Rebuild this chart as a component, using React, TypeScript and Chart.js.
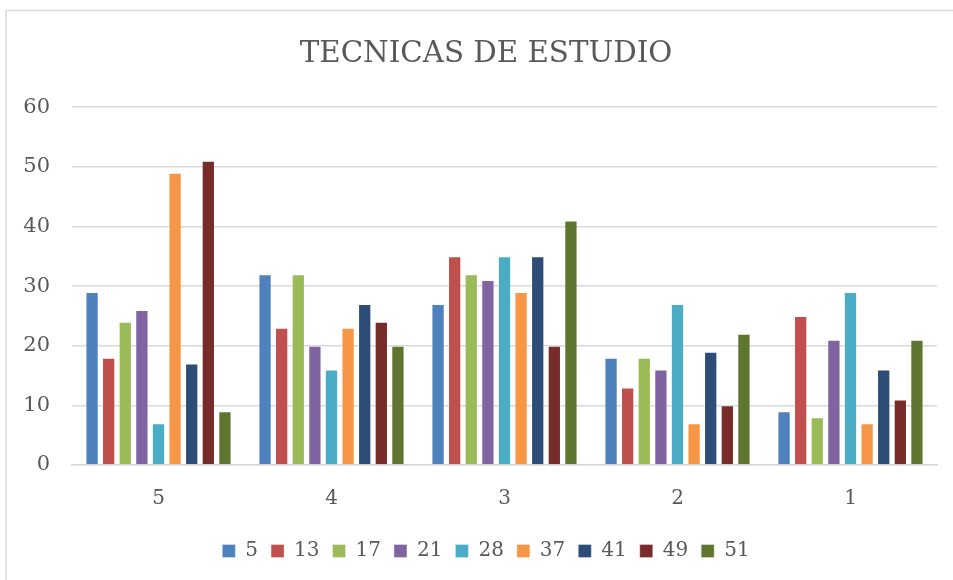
import React, { useEffect, useRef } from "react";
import { Chart, registerables } from "chart.js";

Chart.register(...registerables);

const categories = ["5", "4", "3", "2", "1"];
const seriesNames = ["5", "13", "17", "21", "28", "37", "41", "49", "51"];
const s5 = [29, 32, 27, 18, 9];
const s13 = [18, 23, 35, 13, 25];
const s17 = [24, 32, 32, 18, 8];
const s21 = [26, 20, 31, 16, 21];
const s28 = [7, 16, 35, 27, 29];
const s37 = [49, 23, 29, 7, 7];
const s41 = [17, 27, 35, 19, 16];
const s49 = [51, 24, 20, 10, 11];
const s51 = [9, 20, 41, 22, 21];
const seriesValues = [s5, s13, s17, s21, s28, s37, s41, s49, s51];
const colors = ["#4F81BD", "#C0504D", "#9BBB59", "#8064A2", "#4BACC6", "#F79646", "#2C4D75", "#772C2A", "#5F7530"];
const yTicks = [0, 10, 20, 30, 40, 50, 60];

const FONT = "'DejaVu Serif', 'Liberation Serif', serif";
const TEXT = "#595959";
const GRID = "#d9d9d9";

const frame = {
  id: "frame",
  beforeDraw(chart: any) {
    const ctx = chart.ctx;
    ctx.save();
    ctx.fillStyle = "#ffffff";
    ctx.fillRect(0, 0, chart.width, chart.height);
    ctx.strokeStyle = GRID;
    ctx.lineWidth = 1.5;
    ctx.strokeRect(6, 10.5, chart.width + 20, chart.height + 20);
    ctx.restore();
  },
};

export default function App() {
  const ref = useRef<HTMLCanvasElement>(null);
  useEffect(() => {
    document.body.style.margin = "0";
    const chart = new Chart(ref.current!, {
      type: "bar",
      data: {
        labels: categories,
        datasets: seriesNames.map((n, i) => ({
          label: n,
          data: seriesValues[i],
          backgroundColor: colors[i],
          borderColor: "rgba(255,255,255,0.35)",
          borderWidth: 1,
          categoryPercentage: 0.864,
          barPercentage: 0.8,
        })),
      },
      options: {
        animation: false,
        responsive: false,
        maintainAspectRatio: false,
        layout: { padding: { left: 35, right: 16, top: 0, bottom: 9 } },
        plugins: {
          title: {
            display: true,
            text: "TECNICAS DE ESTUDIO",
            color: TEXT,
            font: { family: FONT, size: 29.3, weight: "normal" },
            padding: { top: 37, bottom: 35 },
          },
          legend: {
            position: "bottom",
            labels: {
              color: TEXT,
              font: { family: FONT, size: 20 },
              boxWidth: 13,
              boxHeight: 13,
              padding: 13,
            },
          },
          tooltip: { enabled: false },
        },
        scales: {
          x: {
            afterFit(scale: any) { scale.height += 3; },
            grid: { display: false },
            border: { display: true, color: GRID, width: 1.5 },
            ticks: { color: TEXT, font: { family: FONT, size: 20 }, padding: 14 },
          },
          y: {
            min: 0,
            max: 60,
            afterFit(scale: any) {
              scale.width = 37;
              scale._computeLabelArea = () => undefined;
            },
            afterBuildTicks(scale: any) { scale.ticks = yTicks.map((v) => ({ value: v })); },
            grid: { color: GRID, lineWidth: 1.5, drawTicks: false },
            border: { display: false },
            ticks: { color: TEXT, font: { family: FONT, size: 21 }, padding: 22 },
          },
        },
      },
      plugins: [frame],
    });
    return () => chart.destroy();
  }, []);
  return <canvas ref={ref} width={953} height={580} style={{ display: "block" }} />;
}
